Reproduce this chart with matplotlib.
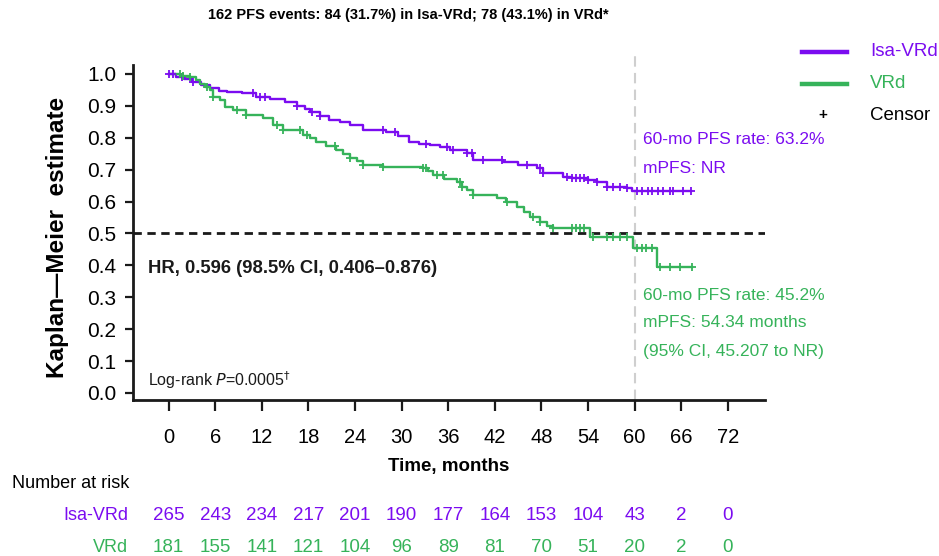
import matplotlib
matplotlib.use('Agg')
import matplotlib.pyplot as plt
import numpy as np
from matplotlib.transforms import blended_transform_factory
from matplotlib.lines import Line2D

plt.rcParams['font.family'] = ['Liberation Sans', 'DejaVu Sans']

# ---------------- data ----------------
isa_t = [0, 1.0, 2.0, 3.0, 4.2, 5.3, 6.5, 7.5, 9.5, 11.3, 13.0, 15.0, 16.5, 17.5, 18.2,
         19.5, 20.7, 22.0, 23.3, 25.0, 28.0, 29.5, 31.0, 32.3, 33.6, 35.0, 36.2, 38.4,
         39.2, 43.0, 45.0, 47.4, 48.2, 50.8, 52.0, 54.0, 55.2, 56.4, 59.0, 59.7]
isa_s = [1.0, 0.99, 0.985, 0.975, 0.965, 0.956, 0.948, 0.944, 0.94, 0.928, 0.92, 0.912, 0.90,
         0.89, 0.88, 0.868, 0.856, 0.848, 0.84, 0.824, 0.818, 0.805, 0.787, 0.782, 0.777,
         0.77, 0.762, 0.752, 0.73, 0.724, 0.715, 0.705, 0.69, 0.677, 0.674, 0.668, 0.66,
         0.646, 0.643, 0.632]
isa_end = 67.3
isa_cens = [0.1, 0.5, 1.7, 3.1, 10.8, 11.7, 12.4, 16.5, 18.4, 19.5, 27.6, 29.1, 33.2, 35.8,
            36.6, 38.4, 39.0, 40.5, 42.9, 46.1, 47.8, 48.2, 51.3, 52.0, 52.5, 53.0, 53.5,
            54.0, 55.2, 56.4, 57.2, 58.1, 59.0, 60.3, 61.0, 61.7, 62.3, 63.0, 63.7, 64.5,
            65.0, 66.3, 67.3]

vrd_t = [0, 1.5, 2.7, 3.5, 4.0, 4.7, 5.3, 5.7, 6.6, 7.2, 8.3, 10.0, 12.1, 13.4, 14.7, 17.3,
         18.2, 19.0, 20.3, 21.6, 22.5, 23.3, 24.2, 25.0, 27.6, 32.7, 33.4, 34.0, 35.5, 37.1,
         37.8, 38.4, 39.2, 42.3, 43.5, 44.8, 45.7, 46.5, 47.8, 48.7, 49.5, 54.3, 59.8, 62.9]
vrd_s = [1.0, 0.995, 0.99, 0.98, 0.97, 0.96, 0.95, 0.928, 0.918, 0.897, 0.887, 0.87, 0.862,
         0.84, 0.824, 0.81, 0.80, 0.787, 0.775, 0.762, 0.75, 0.737, 0.726, 0.715, 0.708,
         0.705, 0.695, 0.683, 0.672, 0.661, 0.646, 0.636, 0.62, 0.611, 0.60, 0.583, 0.567,
         0.552, 0.536, 0.525, 0.517, 0.49, 0.455, 0.395]
vrd_end = 67.4
vrd_cens = [1.4, 1.8, 2.7, 4.9, 5.7, 8.8, 10.0, 13.9, 14.7, 16.9, 17.8, 21.4, 23.3, 25.0,
            27.6, 32.7, 33.2, 34.5, 35.3, 37.5, 37.8, 39.2, 43.6, 46.9, 47.8, 49.5, 52.0,
            52.5, 53.0, 53.5, 54.6, 56.4, 57.2, 58.1, 59.0, 60.3, 61.0, 61.5, 62.3, 63.3,
            64.6, 65.8, 67.4]

risk_times = [0, 6, 12, 18, 24, 30, 36, 42, 48, 54, 60, 66, 72]
isa_risk = [265, 243, 234, 217, 201, 190, 177, 164, 153, 104, 43, 2, 0]
vrd_risk = [181, 155, 141, 121, 104, 96, 89, 81, 70, 51, 20, 2, 0]

PURPLE = '#7B0CF0'
GREEN = '#36B35A'
DARK = '#1a1a1a'

W, H = 939, 556
fig = plt.figure(figsize=(W / 100, H / 100), dpi=100)


def fx(x):
    return x / W


def fy(y):
    return 1 - y / H


ax = fig.add_axes([fx(133), fy(400), fx(765) - fx(133), fy(51) - fy(400)])
ax.set_xlim(-4.6, 76.8)
ax.set_ylim(-0.022, 1.072)


def draw_km(t, s, end, cens, color):
    tt = list(t) + [end]
    ss = list(s) + [s[-1]]
    ax.step(tt, ss, where='post', color=color, lw=1.7, zorder=3)
    idx = np.searchsorted(np.array(t), np.array(cens), side='right') - 1
    cs = np.array(s)[idx]
    ax.plot(cens, cs, linestyle='none', marker='+', markersize=6, mew=1.3,
            color=color, zorder=4)


# reference lines
ax.axhline(0.5, color=DARK, lw=2, ls=(0, (3, 2)), zorder=2)
ax.plot([60, 60], [-0.022, 1.072], color='#cfcfcf', lw=1.5, ls=(0, (5, 3)), zorder=1,
        clip_on=False)

draw_km(isa_t, isa_s, isa_end, isa_cens, PURPLE)
draw_km(vrd_t, vrd_s, vrd_end, vrd_cens, GREEN)

# spines / ticks
for sp in ['top', 'right']:
    ax.spines[sp].set_visible(False)
ax.spines['left'].set_bounds(-0.022, 1.028)
ax.spines['bottom'].set_bounds(-4.6, 76.8)
for sp in ['left', 'bottom']:
    ax.spines[sp].set_linewidth(2)
    ax.spines[sp].set_color(DARK)

ax.set_xticks(risk_times)
ax.set_xticklabels([str(v) for v in risk_times])
yt = np.round(np.arange(0, 1.01, 0.1), 1)
ax.set_yticks(yt)
ax.set_yticklabels([f'{v:.1f}' for v in yt])
ax.tick_params(axis='x', direction='out', length=8, width=1.6, color=DARK, pad=12,
               labelsize=14.5)
ax.tick_params(axis='y', direction='out', length=6, width=1.6, color=DARK, pad=6,
               labelsize=15)

ax.set_xlabel('Time, months', fontsize=13.5, fontweight='bold', labelpad=8)
fig.text(fx(58), fy(237), 'Kaplan\u2014Meier  estimate', rotation=90, ha='center',
         va='center', fontsize=17.5, fontweight='bold')

# title
fig.text(fx(408), fy(15), '162 PFS events: 84 (31.7%) in Isa-VRd; 78 (43.1%) in VRd*',
         ha='center', va='center', fontsize=10.5, fontweight='bold')

# annotations
ax.text(61.1, 0.795, '60-mo PFS rate: 63.2%', color=PURPLE, fontsize=12.5, va='center')
ax.text(61.1, 0.705, 'mPFS: NR', color=PURPLE, fontsize=12.5, va='center')
ax.text(61.1, 0.307, '60-mo PFS rate: 45.2%', color=GREEN, fontsize=12.5, va='center')
ax.text(61.1, 0.220, 'mPFS: 54.34 months', color=GREEN, fontsize=12.5, va='center')
ax.text(61.1, 0.130, '(95% CI, 45.207 to NR)', color=GREEN, fontsize=12.5, va='center')

ax.text(-2.7, 0.39, 'HR, 0.596 (98.5% CI, 0.406\u20130.876)', fontsize=13.3,
        fontweight='bold', va='center', color=DARK)
ax.text(-2.7, 0.04, r'Log-rank $\it{P}$=0.0005$^{\dagger}$', fontsize=11.5, va='center',
        color=DARK)

# legend (manual)
fig.add_artist(Line2D([fx(802), fx(847)], [fy(52), fy(52)], color=PURPLE, lw=3.2))
fig.add_artist(Line2D([fx(802), fx(847)], [fy(84), fy(84)], color=GREEN, lw=3.2))
fig.text(fx(870), fy(52), 'Isa-VRd', color=PURPLE, fontsize=13.5, va='center')
fig.text(fx(870), fy(84), 'VRd', color=GREEN, fontsize=13.5, va='center')
fig.text(fx(823), fy(115), '+', color='black', fontsize=11, va='center', ha='center',
         fontweight='bold')
fig.text(fx(870), fy(116), 'Censor', color='black', fontsize=13.5, va='center')

# number at risk
tr = blended_transform_factory(ax.transData, fig.transFigure)
fig.text(fx(12), fy(483), 'Number at risk', fontsize=13, va='center', color='black')
fig.text(fx(128), fy(516), 'Isa-VRd', fontsize=13, va='center', ha='right', color=PURPLE)
fig.text(fx(128), fy(547), 'VRd', fontsize=13, va='center', ha='right', color=GREEN)
for t, a, b in zip(risk_times, isa_risk, vrd_risk):
    ax.text(t, fy(516), str(a), transform=tr, ha='center', va='center', fontsize=13.5,
            color=PURPLE)
    ax.text(t, fy(547), str(b), transform=tr, ha='center', va='center', fontsize=13.5,
            color=GREEN)

fig.savefig('out.png', dpi=100)
